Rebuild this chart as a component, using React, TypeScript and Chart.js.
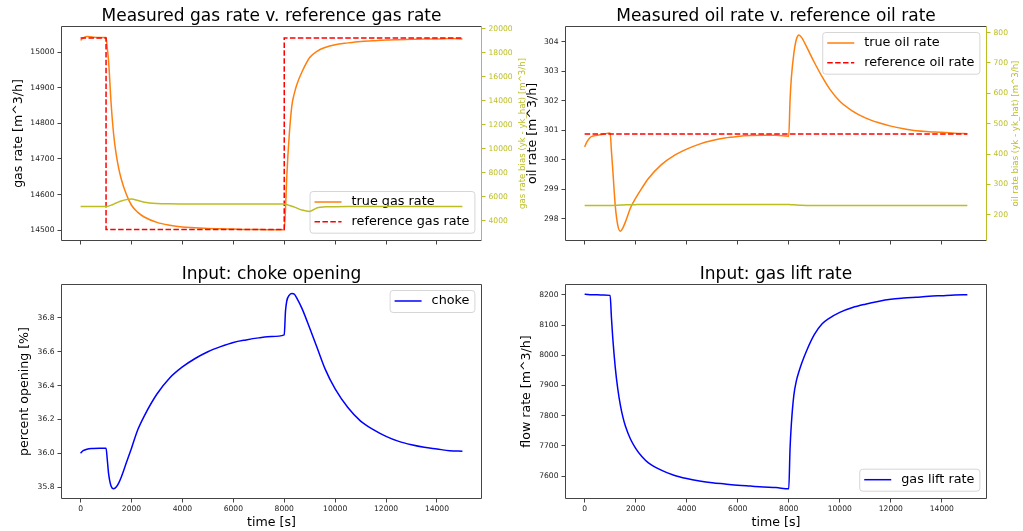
import React, { useEffect, useRef } from "react";
import { Chart, registerables } from "chart.js";

Chart.register(...registerables);

const FIG_W = 1023;
const FIG_H = 531;
const FONT = '"DejaVu Sans", "Liberation Sans", sans-serif';

// Simulation sample times [s], shared by every simulated series
const timeS = [
  0, 100, 250, 500, 750, 1000, 1050, 1100, 1200, 1300, 1400, 1500, 1600, 1800, 2000, 2250, 2500,
  3000, 3500, 4000, 4500, 5000, 5500, 6000, 6500, 7000, 7500, 8000, 8050, 8100, 8200, 8300, 8400,
  8500, 8700, 9000, 9300, 9600, 10000, 10500, 11000, 11500, 12000, 12500, 13000, 13500, 14000,
  14500, 15000,
];

// Measured gas rate [m^3/h]
const trueGasRate = [
  15033, 15040, 15044, 15042, 15041, 15041, 15010, 14975, 14855, 14768, 14712, 14673, 14643, 14600,
  14570, 14550, 14537, 14522, 14514, 14509, 14507, 14505, 14504, 14503, 14502, 14502, 14501, 14501,
  14560, 14650, 14770, 14850, 14885, 14910, 14945, 14985, 15003, 15013, 15021, 15026, 15030, 15032,
  15034, 15035, 15036, 15037, 15037, 15038, 15037,
];

// Gas rate set-point (step changes)
const refGasTime = [0, 1000, 1000, 8000, 8000, 15000];
const refGasRate = [15040, 15040, 14502, 14502, 15040, 15040];

// Gas rate bias (yk - yk_hat) [m^3/h]
const gasBias = [
  5188, 5188, 5188, 5188, 5188, 5188, 5200, 5230, 5310, 5400, 5490, 5580, 5660, 5770, 5815, 5700,
  5560, 5450, 5420, 5415, 5412, 5410, 5410, 5410, 5410, 5410, 5410, 5405, 5390, 5360, 5290, 5220,
  5150, 5060, 4900, 4790, 5100, 5170, 5185, 5188, 5188, 5188, 5188, 5188, 5188, 5188, 5188, 5188,
  5188,
];

// Measured oil rate [m^3/h]
const trueOilRate = [
  300.44, 300.62, 300.78, 300.83, 300.87, 300.91, 300.3, 299.7, 298.45, 297.78, 297.58, 297.7,
  297.9, 298.38, 298.7, 299.05, 299.37, 299.83, 300.14, 300.36, 300.53, 300.65, 300.74, 300.79,
  300.82, 300.83, 300.83, 300.8, 302.0, 302.75, 303.6, 304.08, 304.22, 304.14, 303.82, 303.3,
  302.82, 302.4, 301.98, 301.65, 301.42, 301.26, 301.14, 301.05, 300.98, 300.95, 300.93, 300.9,
  300.88,
];

// Oil rate set-point
const refOilTime = [0, 15000];
const refOilRate = [300.87, 300.87];

// Oil rate bias (yk - yk_hat) [m^3/h]
const oilBias = [
  230.5, 230.5, 230.5, 230.5, 230.5, 230.5, 230.6, 230.8, 231.2, 231.6, 232.0, 232.4, 232.8, 233.3,
  233.6, 233.8, 233.8, 233.8, 233.8, 233.8, 233.8, 233.8, 233.8, 233.8, 233.8, 233.8, 233.8, 233.8,
  233.6, 233.3, 232.8, 232.3, 231.8, 231.4, 231.0, 230.8, 230.8, 230.8, 230.8, 230.8, 230.8, 230.8,
  230.8, 230.8, 230.8, 230.8, 230.8, 230.8, 230.8,
];

// Choke opening input [%]
const chokeOpening = [
  36.0, 36.015, 36.024, 36.028, 36.03, 36.03, 35.96, 35.88, 35.805, 35.79, 35.8, 35.825, 35.86,
  35.945, 36.03, 36.14, 36.22, 36.35, 36.445, 36.51, 36.56, 36.6, 36.63, 36.655, 36.67, 36.682,
  36.69, 36.7, 36.84, 36.9, 36.935, 36.945, 36.94, 36.915, 36.855, 36.74, 36.62, 36.5, 36.38,
  36.27, 36.19, 36.14, 36.1, 36.07, 36.05, 36.035, 36.025, 36.015, 36.012,
];

// Gas lift rate input [m^3/h]
const gasLiftRate = [
  8202, 8201, 8200, 8200, 8199, 8198, 8125, 8060, 7960, 7888, 7835, 7795, 7765, 7722, 7692, 7664,
  7644, 7620, 7603, 7592, 7584, 7578, 7574, 7570, 7567, 7564, 7562, 7558, 7690, 7770, 7868, 7916,
  7946, 7972, 8015, 8068, 8103, 8123, 8142, 8158, 8169, 8178, 8185, 8189, 8192, 8195, 8197, 8199,
  8200,
];

// Tick positions
const timeTicks = [0, 2000, 4000, 6000, 8000, 10000, 12000, 14000];
const gasRateTicks = [14500, 14600, 14700, 14800, 14900, 15000];
const gasBiasTicks = [4000, 6000, 8000, 10000, 12000, 14000, 16000, 18000, 20000];
const oilRateTicks = [298, 299, 300, 301, 302, 303, 304];
const oilBiasTicks = [200, 300, 400, 500, 600, 700, 800];
const chokeTicks = [35.8, 36.0, 36.2, 36.4, 36.6, 36.8];
const gasLiftTicks = [7600, 7700, 7800, 7900, 8000, 8100, 8200];

const ORANGE = "#ff7f0e";
const RED = "#ff0000";
const OLIVE = "#bcbd22";
const BLUE = "#0000ff";
const SPINE = "#444444";
const TICK_TEXT = "#222222";

const Y_AXIS_W = 40;
const X_AXIS_H = 20;
const TICK_FONT = { family: FONT, size: 7.6 };

type Area = { left: number; right: number; top: number; bottom: number };
type AxisSpec = { min: number; max: number; ticks: number[]; fmt: (v: number) => string };
type PanelSpec = {
  area: Area;
  title: string;
  titleY: number;
  yLabel: string;
  yLabelX: number;
  y: AxisSpec;
  y2?: AxisSpec & { label: string; labelX: number };
  xLabel?: string;
  xLabelY?: number;
  legendCorner: "upper" | "lower";
  legendItems: number[];
  legendBeforeDataset?: number;
  datasets: any[];
};

const pts = (xs: number[], ys: number[]) => xs.map((x, i) => ({ x, y: ys[i] }));

const line = (label: string, xs: number[], ys: number[], color: string, yAxisID: string, order: number, dashed = false) => ({
  label,
  data: pts(xs, ys),
  borderColor: color,
  backgroundColor: color,
  borderWidth: 1.5,
  borderDash: dashed ? [5.5, 2.4] : [],
  pointRadius: 0,
  fill: false,
  cubicInterpolationMode: dashed ? "default" : "monotone",
  tension: 0,
  yAxisID,
  order,
});

function drawLegend(ctx: CanvasRenderingContext2D, a: Area, chart: any, spec: PanelSpec) {
  const fs = 12.8;
  ctx.save();
  ctx.font = `${fs}px ${FONT}`;
  const items = spec.legendItems.map((i) => chart.data.datasets[i]);
  const textW = Math.max(...items.map((d: any) => ctx.measureText(d.label).width));
  const padL = 4.5;
  const handle = 27;
  const gap = 10;
  const padR = 5.5;
  const rowH = 19.7;
  const w = padL + handle + gap + textW + padR;
  const h = 22 + (items.length - 1) * rowH;
  const x = a.right - 6.6 - w;
  const y = spec.legendCorner === "upper" ? a.top + 6 : a.bottom - 7.3 - h;
  const r = 3;
  ctx.beginPath();
  ctx.moveTo(x + r, y);
  ctx.lineTo(x + w - r, y);
  ctx.arcTo(x + w, y, x + w, y + r, r);
  ctx.lineTo(x + w, y + h - r);
  ctx.arcTo(x + w, y + h, x + w - r, y + h, r);
  ctx.lineTo(x + r, y + h);
  ctx.arcTo(x, y + h, x, y + h - r, r);
  ctx.lineTo(x, y + r);
  ctx.arcTo(x, y, x + r, y, r);
  ctx.closePath();
  ctx.fillStyle = "rgba(255,255,255,0.8)";
  ctx.fill();
  ctx.strokeStyle = "rgba(204,204,204,0.8)";
  ctx.lineWidth = 1;
  ctx.stroke();
  items.forEach((d: any, i: number) => {
    const cy = y + 10.5 + i * rowH;
    ctx.beginPath();
    ctx.setLineDash(d.borderDash || []);
    ctx.strokeStyle = d.borderColor;
    ctx.lineWidth = 1.5;
    ctx.moveTo(x + padL, cy);
    ctx.lineTo(x + padL + handle, cy);
    ctx.stroke();
    ctx.setLineDash([]);
    ctx.fillStyle = "#000";
    ctx.textAlign = "left";
    ctx.textBaseline = "middle";
    ctx.fillText(d.label, x + padL + handle + gap, cy);
  });
  ctx.restore();
}

function verticalText(ctx: CanvasRenderingContext2D, text: string, x: number, y: number, size: number, color: string) {
  ctx.save();
  ctx.translate(x, y);
  ctx.rotate(-Math.PI / 2);
  ctx.font = `${size}px ${FONT}`;
  ctx.fillStyle = color;
  ctx.textAlign = "center";
  ctx.textBaseline = "middle";
  ctx.fillText(text, 0, 0);
  ctx.restore();
}

function decorPlugin(spec: PanelSpec) {
  return {
    id: "panelDecor",
    beforeDatasetDraw(chart: any, args: any) {
      if (spec.legendBeforeDataset !== undefined && args.index === spec.legendBeforeDataset) {
        drawLegend(chart.ctx, chart.chartArea, chart, spec);
      }
    },
    afterDatasetsDraw(chart: any) {
      if (spec.legendBeforeDataset === undefined) drawLegend(chart.ctx, chart.chartArea, chart, spec);
    },
    afterDraw(chart: any) {
      const ctx: CanvasRenderingContext2D = chart.ctx;
      const a = chart.chartArea;
      ctx.save();
      ctx.lineWidth = 1;
      ctx.strokeStyle = SPINE;
      ctx.beginPath();
      ctx.moveTo(a.left, a.bottom);
      ctx.lineTo(a.left, a.top);
      ctx.lineTo(a.right, a.top);
      if (!spec.y2) ctx.lineTo(a.right, a.bottom);
      ctx.moveTo(a.left, a.bottom);
      ctx.lineTo(a.right, a.bottom);
      ctx.stroke();
      if (spec.y2) {
        ctx.strokeStyle = OLIVE;
        ctx.beginPath();
        ctx.moveTo(a.right, a.top);
        ctx.lineTo(a.right, a.bottom);
        ctx.stroke();
      }
      const cx = (a.left + a.right) / 2;
      const cy = (a.top + a.bottom) / 2;
      ctx.font = `17px ${FONT}`;
      ctx.fillStyle = "#000";
      ctx.textAlign = "center";
      ctx.textBaseline = "alphabetic";
      ctx.fillText(spec.title, cx, spec.titleY);
      if (spec.xLabel) {
        ctx.font = `12.6px ${FONT}`;
        ctx.fillText(spec.xLabel, cx, spec.xLabelY!);
      }
      verticalText(ctx, spec.yLabel, spec.yLabelX, cy, 12.6, "#000");
      if (spec.y2) verticalText(ctx, spec.y2.label, spec.y2.labelX, cy, 8.6, OLIVE);
      ctx.restore();
    },
  };
}

function xScale(showLabels: boolean) {
  return {
    type: "linear",
    position: "bottom",
    min: -750,
    max: 15750,
    afterBuildTicks: (s: any) => {
      s.ticks = timeTicks.map((v) => ({ value: v }));
    },
    afterFit: (s: any) => {
      s.height = X_AXIS_H;
    },
    ticks: {
      font: TICK_FONT,
      color: TICK_TEXT,
      padding: 2,
      maxRotation: 0,
      autoSkip: false,
      callback: (v: number) => (showLabels ? String(v) : ""),
    },
    grid: { drawOnChartArea: false, drawTicks: true, tickLength: 4, color: SPINE, lineWidth: 1 },
    border: { display: false },
  };
}

function yScale(position: "left" | "right", ax: AxisSpec, textColor: string, markColor: string) {
  return {
    type: "linear",
    position,
    min: ax.min,
    max: ax.max,
    afterBuildTicks: (s: any) => {
      s.ticks = ax.ticks.map((v) => ({ value: v }));
    },
    afterFit: (s: any) => {
      s.width = Y_AXIS_W;
    },
    ticks: { font: TICK_FONT, color: textColor, padding: 3, autoSkip: false, callback: (v: number) => ax.fmt(v) },
    grid: { drawOnChartArea: false, drawTicks: true, tickLength: 4, color: markColor, lineWidth: 1 },
    border: { display: false },
  };
}

function buildConfig(spec: PanelSpec): any {
  const a = spec.area;
  const scales: any = { x: xScale(!!spec.xLabel), y: yScale("left", spec.y, TICK_TEXT, SPINE) };
  if (spec.y2) scales.y2 = yScale("right", spec.y2, OLIVE, OLIVE);
  return {
    type: "line",
    data: { datasets: spec.datasets },
    options: {
      responsive: false,
      animation: false,
      devicePixelRatio: 1,
      events: [],
      layout: {
        padding: {
          left: a.left - Y_AXIS_W,
          right: FIG_W - a.right - (spec.y2 ? Y_AXIS_W : 0),
          top: a.top,
          bottom: FIG_H - a.bottom - X_AXIS_H,
        },
      },
      plugins: { legend: { display: false }, tooltip: { enabled: false }, title: { display: false } },
      scales,
    },
    plugins: [decorPlugin(spec)],
  };
}

const plain = (v: number) => String(v);

const panels: PanelSpec[] = [
  {
    area: { left: 61.5, right: 481.5, top: 26.5, bottom: 240.5 },
    title: "Measured gas rate v. reference gas rate",
    titleY: 20.7,
    yLabel: "gas rate [m^3/h]",
    yLabelX: 18.5,
    y: { min: 14471, max: 15072, ticks: gasRateTicks, fmt: plain },
    y2: { min: 2370, max: 20170, ticks: gasBiasTicks, fmt: plain, label: "gas rate bias (yk - yk_hat) [m^3/h]", labelX: 523 },
    legendCorner: "lower",
    legendItems: [0, 1],
    legendBeforeDataset: 2,
    datasets: [
      line("true gas rate", timeS, trueGasRate, ORANGE, "y", 2),
      line("reference gas rate", refGasTime, refGasRate, RED, "y", 1, true),
      line("gas rate bias", timeS, gasBias, OLIVE, "y2", 0),
    ],
  },
  {
    area: { left: 565.5, right: 986.5, top: 26.5, bottom: 240.5 },
    title: "Measured oil rate v. reference oil rate",
    titleY: 20.7,
    yLabel: "oil rate [m^3/h]",
    yLabelX: 532.5,
    y: { min: 297.27, max: 304.51, ticks: oilRateTicks, fmt: plain },
    y2: { min: 115.5, max: 820, ticks: oilBiasTicks, fmt: plain, label: "oil rate bias (yk - yk_hat) [m^3/h]", labelX: 1016 },
    legendCorner: "upper",
    legendItems: [0, 1],
    legendBeforeDataset: 2,
    datasets: [
      line("true oil rate", timeS, trueOilRate, ORANGE, "y", 2),
      line("reference oil rate", refOilTime, refOilRate, RED, "y", 1, true),
      line("oil rate bias", timeS, oilBias, OLIVE, "y2", 0),
    ],
  },
  {
    area: { left: 61.5, right: 481.5, top: 284.5, bottom: 498.5 },
    title: "Input: choke opening",
    titleY: 278.5,
    yLabel: "percent opening [%]",
    yLabelX: 25,
    y: { min: 35.7325, max: 36.9975, ticks: chokeTicks, fmt: (v) => v.toFixed(1) },
    xLabel: "time [s]",
    xLabelY: 525.5,
    legendCorner: "upper",
    legendItems: [0],
    datasets: [line("choke", timeS, chokeOpening, BLUE, "y", 0)],
  },
  {
    area: { left: 565.5, right: 986.5, top: 284.5, bottom: 498.5 },
    title: "Input: gas lift rate",
    titleY: 278.5,
    yLabel: "flow rate [m^3/h]",
    yLabelX: 527,
    y: { min: 7526, max: 8234, ticks: gasLiftTicks, fmt: plain },
    xLabel: "time [s]",
    xLabelY: 525.5,
    legendCorner: "lower",
    legendItems: [0],
    datasets: [line("gas lift rate", timeS, gasLiftRate, BLUE, "y", 0)],
  },
];

function PanelCanvas({ spec }: { spec: PanelSpec }) {
  const ref = useRef<HTMLCanvasElement>(null);
  useEffect(() => {
    const chart = new Chart(ref.current as HTMLCanvasElement, buildConfig(spec));
    return () => chart.destroy();
  }, [spec]);
  return (
    <canvas
      ref={ref}
      width={FIG_W}
      height={FIG_H}
      style={{ position: "absolute", left: 0, top: 0, width: FIG_W, height: FIG_H }}
    />
  );
}

export default function App() {
  return (
    <div
      style={{
        position: "fixed",
        left: 0,
        top: 0,
        width: FIG_W,
        height: FIG_H,
        background: "#ffffff",
        overflow: "hidden",
      }}
    >
      {panels.map((p, i) => (
        <PanelCanvas key={i} spec={p} />
      ))}
    </div>
  );
}
